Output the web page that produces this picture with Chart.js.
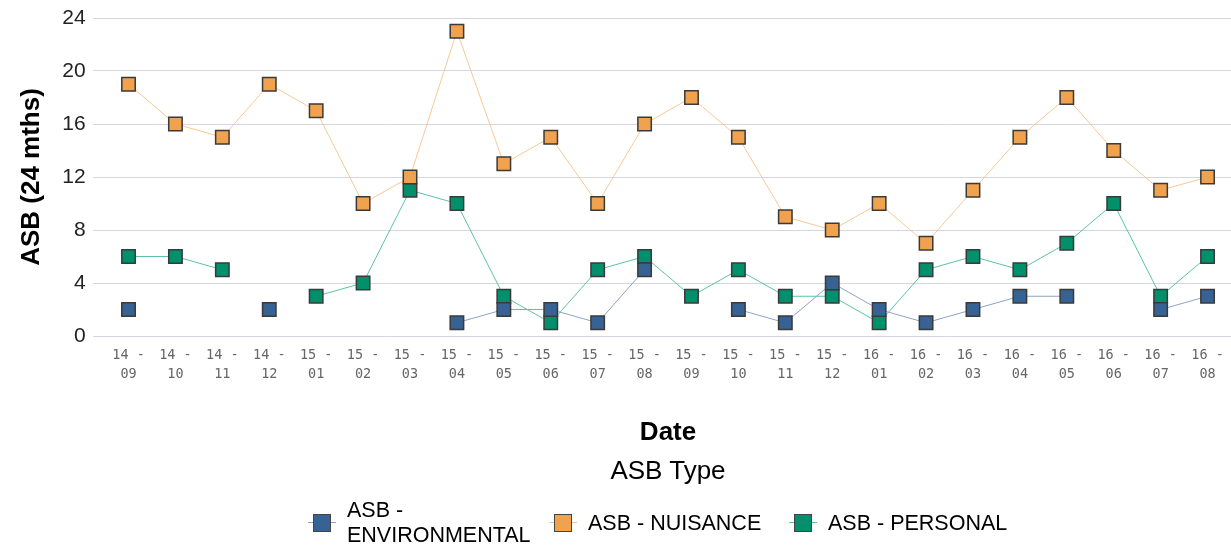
<!DOCTYPE html>
<html>
<head>
<meta charset="utf-8">
<script src="https://cdn.jsdelivr.net/npm/chart.js@4/dist/chart.umd.min.js"></script>
<style>
  html, body { margin: 0; padding: 0; background: #fff; }
  #wrap { position: relative; width: 1231px; height: 546px; overflow: hidden; }
  #legendTitle {
    position: absolute; left: 568px; width: 200px; top: 455px; text-align: center;
    font: 26px "Liberation Sans", Arial, sans-serif; color: #000; line-height: 30px;
  }
  .leg-item { position: absolute; top: 499px; height: 48px; display: flex; align-items: center;
    font: 21.5px "Liberation Sans", Arial, sans-serif; color: #000; line-height: 25px; }
  .leg-mark { position: relative; width: 28px; height: 18px; margin-right: 11px; flex: none; }
  .leg-mark .ln { position: absolute; left: 0; right: 0; top: 8px; height: 1px; }
  .leg-mark .sq { position: absolute; left: 5px; top: 0; width: 16px; height: 16px; border: 1px solid #444; }
</style>
</head>
<body>
<div id="wrap">
  <!-- canvas a bit wider than the window: the x scale keeps ~11px on its right -->
  <canvas id="asbChart" width="1242" height="546"></canvas>
  <div id="legendTitle">ASB Type</div>
  <div id="legend"></div>
</div>
<script>
// === DATA ===
const months = ['14-09','14-10','14-11','14-12','15-01','15-02','15-03','15-04','15-05','15-06','15-07','15-08',
                '15-09','15-10','15-11','15-12','16-01','16-02','16-03','16-04','16-05','16-06','16-07','16-08'];
const environmental = [2, null, null, 2, null, null, null, 1, 2, 2, 1, 5, null, 2, 1, 4, 2, 1, 2, 3, 3, null, 2, 3];
const nuisance      = [19, 16, 15, 19, 17, 10, 12, 23, 13, 15, 10, 16, 18, 15, 9, 8, 10, 7, 11, 15, 18, 14, 11, 12];
const personal      = [6, 6, 5, null, 3, 4, 11, 10, 3, 1, 5, 6, 3, 5, 3, 3, 1, 5, 6, 5, 7, 10, 3, 6];
const yTicks = [0, 4, 8, 12, 16, 20, 24];
const seriesNames = ['ASB - ENVIRONMENTAL', 'ASB - NUISANCE', 'ASB - PERSONAL'];

// tick label "14 -" over "09"
const tickLabels = months.map(m => { const [a, b] = m.split('-'); return [a + ' -', b]; });

const fills = ['#376294', '#f0a24e', '#00906c'];
const lines = ['#8ea3c4', '#f7c896', '#5cc2a6'];
const allData = [environmental, nuisance, personal];

new Chart(document.getElementById('asbChart'), {
  type: 'line',
  data: {
    labels: tickLabels,
    datasets: allData.map((d, i) => ({
      label: seriesNames[i],
      data: d,
      borderColor: lines[i],
      borderWidth: 1,
      backgroundColor: fills[i],
      pointBackgroundColor: fills[i],
      pointBorderColor: '#3a3a3a',
      pointBorderWidth: 1.5,
      pointStyle: 'rect',
      pointRadius: 9.5,
      pointHoverRadius: 9.5,
      spanGaps: false,
      tension: 0
    }))
  },
  options: {
    responsive: false,
    animation: false,
    layout: { padding: { left: 16, right: 0, top: 6, bottom: 94 } },
    scales: {
      x: {
        offset: true,
        grid: { display: false },
        border: { display: false },
        ticks: {
          maxRotation: 0, autoSkip: false, padding: 2,
          color: '#666',
          font: { family: 'DejaVu Sans Mono', size: 13.5, lineHeight: 1.4 }
        },
        title: {
          display: true, text: 'Date', color: '#000',
          font: { family: 'Liberation Sans', size: 26, weight: 'bold' },
          padding: { top: 31, bottom: 4 }
        }
      },
      y: {
        min: 0, max: 24,
        afterBuildTicks: axis => { axis.ticks = yTicks.map(v => ({ value: v })); },
        grid: { color: '#d4d4e2', lineWidth: 1, tickLength: 12, tickColor: '#d4d4e2' },
        border: { display: false },
        ticks: {
          color: '#222', padding: 7.5,
          font: { family: 'Liberation Sans', size: 21, lineHeight: 1.0 }
        },
        title: {
          display: true, text: 'ASB (24 mths)', color: '#000',
          font: { family: 'Liberation Sans', size: 26, weight: 'bold' },
          padding: { top: 0, bottom: 7.5 }
        }
      }
    },
    plugins: {
      tooltip: { enabled: false },
      legend: { display: false }
    }
  }
});

// legend under the chart, environmental label wraps on two lines
const legendLefts = [308, 549, 789];
const legendTexts = ['ASB -<br>ENVIRONMENTAL', 'ASB - NUISANCE', 'ASB - PERSONAL'];
const legend = document.getElementById('legend');
legendTexts.forEach((t, i) => {
  const it = document.createElement('div');
  it.className = 'leg-item';
  it.style.left = legendLefts[i] + 'px';
  it.innerHTML = `
    <span class="leg-mark"><span class="ln" style="background:${lines[i]}"></span><span class="sq" style="background:${fills[i]}"></span></span>
    <span>${t}</span>`;
  legend.appendChild(it);
});
</script>
</body>
</html>
